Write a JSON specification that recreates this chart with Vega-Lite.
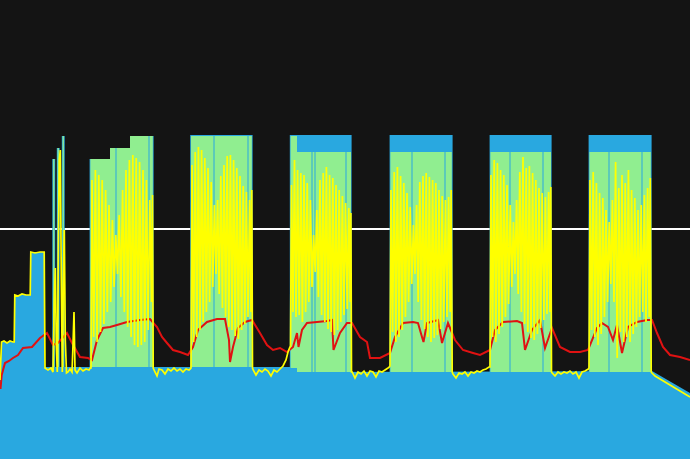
{
  "$schema": "https://vega.github.io/schema/vega-lite/v6.json",
  "width": 690,
  "height": 459,
  "padding": 0,
  "autosize": "none",
  "background": "#141414",
  "config": {"view": {"stroke": null}},
  "datasets": {
    "ref": [{"v": 230}],
    "base": [
      {"t": 0, "v": 81}, {"t": 1.5, "v": 117}, {"t": 14.5, "v": 117}, {"t": 14.51, "v": 164},
      {"t": 30.5, "v": 164}, {"t": 30.51, "v": 207}, {"t": 44.7, "v": 207}, {"t": 44.71, "v": 92},
      {"t": 296, "v": 92}, {"t": 296.01, "v": 87}, {"t": 652, "v": 88}, {"t": 690, "v": 66}
    ],
    "target": [
      {"t0": 52.3, "t1": 55.2, "hi": 300, "lo": 92},
      {"t0": 56.8, "t1": 59.7, "hi": 311, "lo": 92},
      {"t0": 61.8, "t1": 64.7, "hi": 323, "lo": 92},
      {"t0": 89.6, "t1": 110, "hi": 300, "lo": 92},
      {"t0": 110, "t1": 130, "hi": 311, "lo": 92},
      {"t0": 130, "t1": 153.6, "hi": 323, "lo": 92},
      {"t0": 190.2, "t1": 252.6, "hi": 324, "lo": 92},
      {"t0": 289.8, "t1": 351.6, "hi": 324, "lo": 87},
      {"t0": 389.6, "t1": 452.6, "hi": 324, "lo": 87},
      {"t0": 489.6, "t1": 551.6, "hi": 324, "lo": 87},
      {"t0": 588.6, "t1": 651.6, "hi": 324, "lo": 87}
    ],
    "zone": [
      {"t0": 53.1, "t1": 54.4, "hi": 300, "lo": 92},
      {"t0": 57.6, "t1": 58.9, "hi": 311, "lo": 92},
      {"t0": 62.6, "t1": 63.9, "hi": 323, "lo": 92},
      {"t0": 90.4, "t1": 110, "hi": 300, "lo": 92},
      {"t0": 110, "t1": 115.5, "hi": 311, "lo": 92},
      {"t0": 116.5, "t1": 130, "hi": 311, "lo": 92},
      {"t0": 130, "t1": 148.5, "hi": 323, "lo": 92},
      {"t0": 149.5, "t1": 152.8, "hi": 323, "lo": 92},
      {"t0": 191, "t1": 213.5, "hi": 323, "lo": 92},
      {"t0": 214.5, "t1": 247.5, "hi": 323, "lo": 92},
      {"t0": 248.5, "t1": 251.8, "hi": 323, "lo": 92},
      {"t0": 290.6, "t1": 297, "hi": 323, "lo": 91},
      {"t0": 297, "t1": 311.5, "hi": 307, "lo": 87},
      {"t0": 312.5, "t1": 314.5, "hi": 307, "lo": 87},
      {"t0": 315.5, "t1": 345.5, "hi": 307, "lo": 87},
      {"t0": 346.5, "t1": 351, "hi": 307, "lo": 87},
      {"t0": 390.4, "t1": 411.5, "hi": 307, "lo": 87},
      {"t0": 412.5, "t1": 444.5, "hi": 307, "lo": 87},
      {"t0": 445.5, "t1": 451.8, "hi": 307, "lo": 87},
      {"t0": 490.4, "t1": 509.5, "hi": 307, "lo": 87},
      {"t0": 510.5, "t1": 542.5, "hi": 307, "lo": 87},
      {"t0": 543.5, "t1": 551, "hi": 307, "lo": 87},
      {"t0": 589.4, "t1": 608.5, "hi": 307, "lo": 87},
      {"t0": 609.5, "t1": 641.5, "hi": 307, "lo": 87},
      {"t0": 642.5, "t1": 650.8, "hi": 307, "lo": 87}
    ],
    "hr": [
      {"t": 0.5, "v": 70}, {"t": 1.7, "v": 84}, {"t": 5, "v": 96}, {"t": 9, "v": 98}, {"t": 13, "v": 101}, {"t": 18, "v": 104}, {"t": 23, "v": 111},
      {"t": 32, "v": 112}, {"t": 40, "v": 121}, {"t": 47, "v": 126}, {"t": 53, "v": 114}, {"t": 58, "v": 116},
      {"t": 67, "v": 126}, {"t": 72, "v": 116}, {"t": 80, "v": 102}, {"t": 88, "v": 101}, {"t": 92, "v": 99},
      {"t": 97, "v": 119}, {"t": 103, "v": 131}, {"t": 110, "v": 132}, {"t": 117, "v": 134}, {"t": 127, "v": 137}, {"t": 140, "v": 139},
      {"t": 150, "v": 140}, {"t": 157, "v": 132}, {"t": 162, "v": 122}, {"t": 167, "v": 116}, {"t": 173, "v": 109}, {"t": 180, "v": 107},
      {"t": 188, "v": 104}, {"t": 193, "v": 112}, {"t": 198, "v": 129}, {"t": 207, "v": 137}, {"t": 217, "v": 140},
      {"t": 225, "v": 140}, {"t": 229, "v": 119}, {"t": 230, "v": 97}, {"t": 233, "v": 112}, {"t": 238, "v": 131},
      {"t": 245, "v": 137}, {"t": 252, "v": 139}, {"t": 260, "v": 126}, {"t": 267, "v": 114}, {"t": 273, "v": 109},
      {"t": 280, "v": 111}, {"t": 287, "v": 107}, {"t": 293, "v": 112}, {"t": 297, "v": 126}, {"t": 298.5, "v": 112},
      {"t": 302, "v": 129}, {"t": 307, "v": 136}, {"t": 317, "v": 137}, {"t": 327, "v": 138}, {"t": 332, "v": 139},
      {"t": 333.5, "v": 109}, {"t": 340, "v": 126}, {"t": 347, "v": 136}, {"t": 352, "v": 136}, {"t": 360, "v": 122},
      {"t": 367, "v": 117}, {"t": 370, "v": 101}, {"t": 380, "v": 101}, {"t": 390, "v": 106}, {"t": 395, "v": 122},
      {"t": 403, "v": 136}, {"t": 413, "v": 137}, {"t": 418, "v": 136}, {"t": 422, "v": 122}, {"t": 423.5, "v": 117},
      {"t": 427, "v": 136}, {"t": 438, "v": 139}, {"t": 442, "v": 116}, {"t": 448, "v": 136}, {"t": 455, "v": 119},
      {"t": 463, "v": 109}, {"t": 473, "v": 106}, {"t": 480, "v": 104}, {"t": 490, "v": 109}, {"t": 495, "v": 129},
      {"t": 503, "v": 137}, {"t": 517, "v": 138}, {"t": 522, "v": 136}, {"t": 525, "v": 109}, {"t": 532, "v": 129},
      {"t": 540, "v": 139}, {"t": 545, "v": 111}, {"t": 552, "v": 131}, {"t": 560, "v": 112}, {"t": 570, "v": 107},
      {"t": 580, "v": 107}, {"t": 588, "v": 109}, {"t": 597, "v": 131}, {"t": 602, "v": 136}, {"t": 608, "v": 132},
      {"t": 613, "v": 119}, {"t": 617, "v": 134}, {"t": 622, "v": 106}, {"t": 628, "v": 132}, {"t": 637, "v": 137},
      {"t": 647, "v": 139}, {"t": 652, "v": 139}, {"t": 657, "v": 126}, {"t": 663, "v": 112}, {"t": 670, "v": 104},
      {"t": 675, "v": 103}, {"t": 680, "v": 102}, {"t": 690, "v": 99}
    ],
    "power": [
      {"t": 0, "v": 79}, {"t": 1.5, "v": 117}, {"t": 4, "v": 118}, {"t": 7, "v": 116}, {"t": 10, "v": 118},
      {"t": 13, "v": 117}, {"t": 14.2, "v": 117}, {"t": 14.8, "v": 164}, {"t": 18, "v": 163}, {"t": 22, "v": 165},
      {"t": 26, "v": 164}, {"t": 30.2, "v": 164}, {"t": 30.8, "v": 207}, {"t": 35, "v": 206}, {"t": 40, "v": 207},
      {"t": 44.2, "v": 207}, {"t": 45, "v": 91}, {"t": 48, "v": 89}, {"t": 51, "v": 91}, {"t": 53, "v": 87},
      {"t": 54.3, "v": 159}, {"t": 55.3, "v": 191}, {"t": 56.3, "v": 114}, {"t": 57.3, "v": 87}, {"t": 58.3, "v": 199},
      {"t": 59.3, "v": 299}, {"t": 60.3, "v": 309}, {"t": 61.3, "v": 179}, {"t": 62.3, "v": 87}, {"t": 63.3, "v": 179},
      {"t": 64.3, "v": 229}, {"t": 65.3, "v": 119}, {"t": 66.5, "v": 86}, {"t": 68, "v": 87}, {"t": 70, "v": 90},
      {"t": 72, "v": 87}, {"t": 73, "v": 114}, {"t": 74, "v": 147}, {"t": 75, "v": 89}, {"t": 77, "v": 86},
      {"t": 80, "v": 91}, {"t": 83, "v": 88}, {"t": 86, "v": 90}, {"t": 89, "v": 89}, {"t": 90.3, "v": 91},
      {"t": 91, "v": 91}, {"t": 92, "v": 279}, {"t": 93.7, "v": 122}, {"t": 95.4, "v": 289}, {"t": 97.1, "v": 117},
      {"t": 98.8, "v": 284}, {"t": 100.5, "v": 127}, {"t": 102.2, "v": 279}, {"t": 103.9, "v": 135}, {"t": 105.6, "v": 269},
      {"t": 107.3, "v": 147}, {"t": 109, "v": 254}, {"t": 110.7, "v": 157}, {"t": 112.4, "v": 239}, {"t": 114.1, "v": 172},
      {"t": 115.8, "v": 224}, {"t": 117.5, "v": 185}, {"t": 119.2, "v": 244}, {"t": 120.9, "v": 162}, {"t": 122.6, "v": 269},
      {"t": 124.3, "v": 147}, {"t": 126, "v": 289}, {"t": 127.7, "v": 132}, {"t": 129.4, "v": 299}, {"t": 131.1, "v": 122},
      {"t": 132.8, "v": 304}, {"t": 134.5, "v": 114}, {"t": 136.2, "v": 301}, {"t": 137.9, "v": 112}, {"t": 139.6, "v": 297},
      {"t": 141.3, "v": 114}, {"t": 143, "v": 289}, {"t": 144.7, "v": 117}, {"t": 146.4, "v": 279}, {"t": 148.1, "v": 129},
      {"t": 149.8, "v": 259}, {"t": 151.5, "v": 157}, {"t": 152.5, "v": 264}, {"t": 153.2, "v": 91},
      {"t": 155, "v": 87}, {"t": 157, "v": 83}, {"t": 159, "v": 90}, {"t": 162, "v": 89}, {"t": 165, "v": 85},
      {"t": 168, "v": 90}, {"t": 171, "v": 88}, {"t": 174, "v": 91}, {"t": 177, "v": 88}, {"t": 180, "v": 90},
      {"t": 183, "v": 87}, {"t": 186, "v": 90}, {"t": 189, "v": 89}, {"t": 190.3, "v": 90},
      {"t": 191, "v": 91}, {"t": 192, "v": 294}, {"t": 193.6, "v": 117}, {"t": 195.2, "v": 307}, {"t": 196.8, "v": 122},
      {"t": 198.4, "v": 312}, {"t": 200, "v": 129}, {"t": 201.6, "v": 309}, {"t": 203.2, "v": 137}, {"t": 204.8, "v": 301},
      {"t": 206.4, "v": 147}, {"t": 208, "v": 291}, {"t": 209.6, "v": 157}, {"t": 211.2, "v": 277}, {"t": 212.8, "v": 172},
      {"t": 214.4, "v": 254}, {"t": 216, "v": 185}, {"t": 217.6, "v": 259}, {"t": 219.2, "v": 165}, {"t": 220.8, "v": 283},
      {"t": 222.4, "v": 151}, {"t": 224, "v": 294}, {"t": 225.6, "v": 142}, {"t": 227.2, "v": 303}, {"t": 228.8, "v": 132},
      {"t": 230.4, "v": 304}, {"t": 232, "v": 129}, {"t": 233.6, "v": 299}, {"t": 235.2, "v": 123}, {"t": 236.8, "v": 291},
      {"t": 238.4, "v": 120}, {"t": 240, "v": 283}, {"t": 241.6, "v": 129}, {"t": 243.2, "v": 273}, {"t": 244.8, "v": 135},
      {"t": 246.4, "v": 267}, {"t": 248, "v": 142}, {"t": 249.6, "v": 259}, {"t": 251, "v": 147}, {"t": 251.8, "v": 269},
      {"t": 252.5, "v": 91},
      {"t": 253.2, "v": 89}, {"t": 256, "v": 84}, {"t": 259, "v": 89}, {"t": 262, "v": 87}, {"t": 265, "v": 90},
      {"t": 268, "v": 88}, {"t": 271, "v": 83}, {"t": 274, "v": 89}, {"t": 277, "v": 87}, {"t": 280, "v": 90},
      {"t": 283, "v": 93}, {"t": 286, "v": 99}, {"t": 288, "v": 107}, {"t": 289.5, "v": 111},
      {"t": 290.5, "v": 113}, {"t": 291.5, "v": 274}, {"t": 293, "v": 147}, {"t": 294.5, "v": 299}, {"t": 296, "v": 142},
      {"t": 297.6, "v": 289}, {"t": 299.2, "v": 144}, {"t": 300.8, "v": 286}, {"t": 302.4, "v": 137}, {"t": 304, "v": 284},
      {"t": 305.6, "v": 147}, {"t": 307.2, "v": 276}, {"t": 308.8, "v": 157}, {"t": 310.4, "v": 259}, {"t": 312, "v": 172},
      {"t": 313.6, "v": 224}, {"t": 315.2, "v": 187}, {"t": 316.8, "v": 249}, {"t": 318.4, "v": 162}, {"t": 320, "v": 279},
      {"t": 321.6, "v": 144}, {"t": 323.2, "v": 286}, {"t": 324.8, "v": 137}, {"t": 326.4, "v": 292}, {"t": 328, "v": 130},
      {"t": 329.6, "v": 284}, {"t": 331.2, "v": 127}, {"t": 332.8, "v": 281}, {"t": 334.4, "v": 124}, {"t": 336, "v": 274},
      {"t": 337.6, "v": 129}, {"t": 339.2, "v": 269}, {"t": 340.8, "v": 137}, {"t": 342.4, "v": 263}, {"t": 344, "v": 144},
      {"t": 345.6, "v": 256}, {"t": 347.2, "v": 150}, {"t": 348.8, "v": 251}, {"t": 350.2, "v": 157}, {"t": 350.9, "v": 246},
      {"t": 351.5, "v": 87},
      {"t": 352.2, "v": 87}, {"t": 355, "v": 81}, {"t": 358, "v": 87}, {"t": 361, "v": 85}, {"t": 364, "v": 88},
      {"t": 367, "v": 83}, {"t": 370, "v": 88}, {"t": 373, "v": 87}, {"t": 376, "v": 82}, {"t": 379, "v": 88},
      {"t": 382, "v": 87}, {"t": 385, "v": 89}, {"t": 388, "v": 91}, {"t": 389.4, "v": 92},
      {"t": 390, "v": 93}, {"t": 391, "v": 269}, {"t": 392.6, "v": 127}, {"t": 394.2, "v": 287}, {"t": 395.8, "v": 117},
      {"t": 397.4, "v": 292}, {"t": 399, "v": 122}, {"t": 400.6, "v": 283}, {"t": 402.2, "v": 129}, {"t": 403.8, "v": 276},
      {"t": 405.4, "v": 142}, {"t": 407, "v": 266}, {"t": 408.6, "v": 157}, {"t": 410.2, "v": 252}, {"t": 411.8, "v": 175},
      {"t": 413.4, "v": 234}, {"t": 415, "v": 185}, {"t": 416.6, "v": 254}, {"t": 418.2, "v": 157}, {"t": 419.8, "v": 277},
      {"t": 421.4, "v": 139}, {"t": 423, "v": 283}, {"t": 424.6, "v": 130}, {"t": 426.2, "v": 286}, {"t": 427.8, "v": 122},
      {"t": 429.4, "v": 282}, {"t": 431, "v": 117}, {"t": 432.6, "v": 279}, {"t": 434.2, "v": 121}, {"t": 435.8, "v": 276},
      {"t": 437.4, "v": 124}, {"t": 439, "v": 269}, {"t": 440.6, "v": 130}, {"t": 442.2, "v": 263}, {"t": 443.8, "v": 137},
      {"t": 445.4, "v": 259}, {"t": 447, "v": 142}, {"t": 448.6, "v": 262}, {"t": 450.2, "v": 147}, {"t": 451.2, "v": 269},
      {"t": 452.2, "v": 87},
      {"t": 453, "v": 85}, {"t": 456, "v": 81}, {"t": 459, "v": 86}, {"t": 462, "v": 85}, {"t": 465, "v": 87},
      {"t": 468, "v": 83}, {"t": 471, "v": 87}, {"t": 474, "v": 86}, {"t": 477, "v": 88}, {"t": 480, "v": 87},
      {"t": 483, "v": 89}, {"t": 486, "v": 90}, {"t": 489, "v": 92},
      {"t": 490, "v": 92}, {"t": 491, "v": 284}, {"t": 492.6, "v": 122}, {"t": 494.2, "v": 299}, {"t": 495.8, "v": 117},
      {"t": 497.4, "v": 296}, {"t": 499, "v": 125}, {"t": 500.6, "v": 289}, {"t": 502.2, "v": 132}, {"t": 503.8, "v": 284},
      {"t": 505.4, "v": 142}, {"t": 507, "v": 274}, {"t": 508.6, "v": 155}, {"t": 510.2, "v": 254}, {"t": 511.8, "v": 172},
      {"t": 513.4, "v": 237}, {"t": 515, "v": 185}, {"t": 516.6, "v": 259}, {"t": 518.2, "v": 165}, {"t": 519.8, "v": 287},
      {"t": 521.4, "v": 147}, {"t": 523, "v": 302}, {"t": 524.6, "v": 135}, {"t": 526.2, "v": 291}, {"t": 527.8, "v": 127},
      {"t": 529.4, "v": 293}, {"t": 531, "v": 121}, {"t": 532.6, "v": 286}, {"t": 534.2, "v": 119}, {"t": 535.8, "v": 279},
      {"t": 537.4, "v": 125}, {"t": 539, "v": 271}, {"t": 540.6, "v": 131}, {"t": 542.2, "v": 266}, {"t": 543.8, "v": 139},
      {"t": 545.4, "v": 262}, {"t": 547, "v": 145}, {"t": 548.6, "v": 267}, {"t": 550, "v": 147}, {"t": 550.8, "v": 272},
      {"t": 551.5, "v": 87},
      {"t": 552.2, "v": 86}, {"t": 555, "v": 83}, {"t": 558, "v": 87}, {"t": 561, "v": 85}, {"t": 564, "v": 87},
      {"t": 567, "v": 86}, {"t": 570, "v": 88}, {"t": 573, "v": 85}, {"t": 576, "v": 87}, {"t": 579, "v": 81},
      {"t": 582, "v": 87}, {"t": 585, "v": 88}, {"t": 588.3, "v": 90},
      {"t": 589, "v": 91}, {"t": 590, "v": 279}, {"t": 591.6, "v": 129}, {"t": 593.2, "v": 287}, {"t": 594.8, "v": 122},
      {"t": 596.4, "v": 276}, {"t": 598, "v": 114}, {"t": 599.6, "v": 266}, {"t": 601.2, "v": 125}, {"t": 602.8, "v": 261},
      {"t": 604.4, "v": 142}, {"t": 606, "v": 249}, {"t": 607.6, "v": 157}, {"t": 609.2, "v": 237}, {"t": 610.8, "v": 175},
      {"t": 612.4, "v": 259}, {"t": 614, "v": 157}, {"t": 615.6, "v": 297}, {"t": 617.2, "v": 101}, {"t": 618.8, "v": 271},
      {"t": 620.4, "v": 127}, {"t": 622, "v": 284}, {"t": 623.6, "v": 117}, {"t": 625.2, "v": 276}, {"t": 626.8, "v": 122},
      {"t": 628.4, "v": 289}, {"t": 630, "v": 117}, {"t": 631.6, "v": 269}, {"t": 633.2, "v": 125}, {"t": 634.8, "v": 261},
      {"t": 636.4, "v": 132}, {"t": 638, "v": 249}, {"t": 639.6, "v": 142}, {"t": 641.2, "v": 254}, {"t": 642.8, "v": 147},
      {"t": 644.4, "v": 264}, {"t": 646, "v": 137}, {"t": 647.6, "v": 271}, {"t": 649.2, "v": 142}, {"t": 650.3, "v": 281},
      {"t": 651.2, "v": 87},
      {"t": 652, "v": 86}, {"t": 655, "v": 83}, {"t": 660, "v": 80}, {"t": 665, "v": 77}, {"t": 670, "v": 74},
      {"t": 675, "v": 71}, {"t": 680, "v": 68}, {"t": 685, "v": 65}, {"t": 690, "v": 62}
    ]
  },
  "layer": [
    {
      "data": {"name": "ref"},
      "mark": {"type": "rule", "color": "#ffffff", "strokeWidth": 2},
      "encoding": {
        "y": {"field": "v", "type": "quantitative", "scale": {"domain": [0, 459], "nice": false, "zero": false}, "axis": null}
      }
    },
    {
      "data": {"name": "base"},
      "mark": {"type": "area", "color": "#29a8e0", "interpolate": "linear"},
      "encoding": {
        "x": {"field": "t", "type": "quantitative", "scale": {"domain": [0, 690], "nice": false, "zero": false}, "axis": null},
        "y": {"field": "v", "type": "quantitative", "scale": {"domain": [0, 459], "nice": false, "zero": false}, "axis": null}
      }
    },
    {
      "data": {"name": "target"},
      "mark": {"type": "rect", "color": "#29a8e0"},
      "encoding": {
        "x": {"field": "t0", "type": "quantitative", "axis": null},
        "x2": {"field": "t1"},
        "y": {"field": "hi", "type": "quantitative", "axis": null},
        "y2": {"field": "lo"}
      }
    },
    {
      "data": {"name": "zone"},
      "mark": {"type": "rect", "color": "#90ee90"},
      "encoding": {
        "x": {"field": "t0", "type": "quantitative", "axis": null},
        "x2": {"field": "t1"},
        "y": {"field": "hi", "type": "quantitative", "axis": null},
        "y2": {"field": "lo"}
      }
    },
    {
      "data": {"name": "hr"},
      "mark": {"type": "line", "color": "#e01212", "strokeWidth": 2},
      "encoding": {
        "x": {"field": "t", "type": "quantitative", "axis": null},
        "y": {"field": "v", "type": "quantitative", "axis": null}
      }
    },
    {
      "data": {"name": "power"},
      "mark": {"type": "line", "color": "#ffff00", "strokeWidth": 1.7},
      "encoding": {
        "x": {"field": "t", "type": "quantitative", "axis": null},
        "y": {"field": "v", "type": "quantitative", "axis": null}
      }
    }
  ]
}
